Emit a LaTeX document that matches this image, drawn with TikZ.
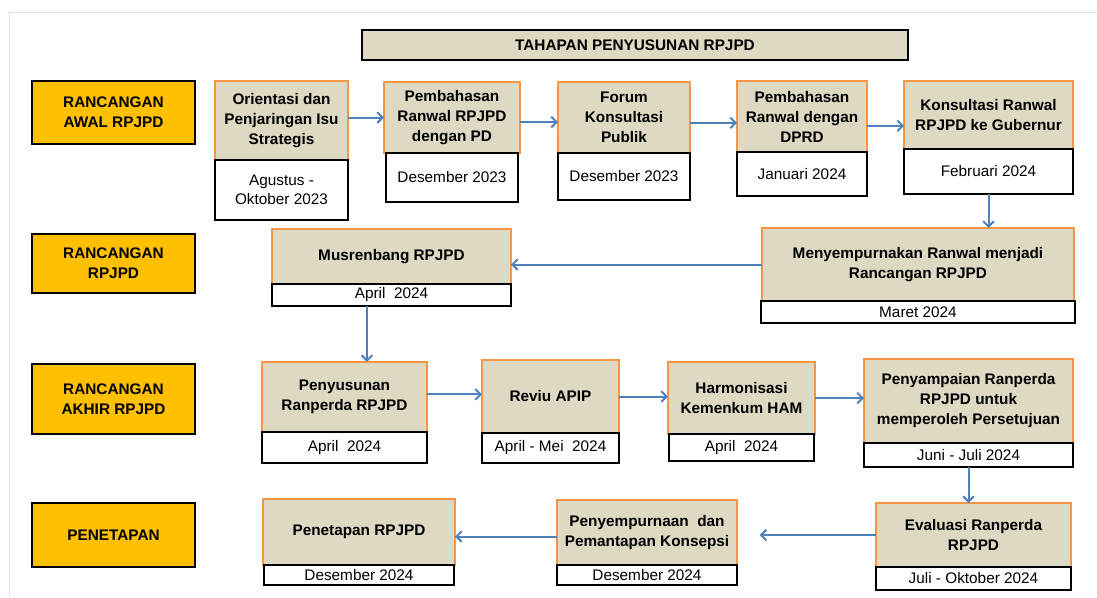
\documentclass[tikz,border=0pt]{standalone}
\usepackage{fontspec}
\setmainfont{Liberation Sans}
\usetikzlibrary{arrows.meta, calc, positioning}
\definecolor{phaseyellow}{HTML}{FFC000}
\definecolor{stagefill}{HTML}{DDD9C3}
\definecolor{stageedge}{HTML}{F79646}
\definecolor{arrowblue}{HTML}{4F81BD}
\tikzstyle{line} = [draw=arrowblue, line width=1.5pt, -{Straight Barb[length=4pt,width=8pt]}]
\tikzstyle{heading} = [rectangle, draw, line width=1.5pt, fill=stagefill, font=\bfseries\fontsize{11.5}{13}\selectfont, minimum width=409.5pt, minimum height=22.5pt]
\tikzstyle{phase} = [rectangle, draw, line width=1.5pt, fill=phaseyellow, align=center, font=\bfseries\fontsize{11.5}{15}\selectfont, minimum width=122.25pt]
\tikzstyle{stage} = [rectangle, draw=stageedge, line width=1.5pt, fill=stagefill, align=center, font=\bfseries\fontsize{11.5}{15}\selectfont, inner sep=1pt, outer sep=0pt]
\tikzstyle{period} = [rectangle, draw, line width=1.5pt, fill=white, align=center, font=\fontsize{11.5}{14}\selectfont, inner sep=1pt, outer sep=0pt]

\begin{document}
\begin{tikzpicture}[x=0.75pt, y=-0.75pt, node distance=0pt]
\useasboundingbox (0,0) rectangle (1097,597);
\draw [black!12] (9,597) -- (9,12) -- (1097,12);
\node [heading] (title) at (635,45) {TAHAPAN PENYUSUNAN RPJPD};
\node [phase, minimum height=47.25pt] (awal) at (113.5,112.5) {RANCANGAN\\AWAL RPJPD};
\node [phase, minimum height=44.25pt] (rancangan) at (113.5,263.5) {RANCANGAN\\RPJPD};
\node [phase, minimum height=52.5pt] (akhir) at (113.5,399) {RANCANGAN\\AKHIR RPJPD};
\node [phase, minimum height=48pt] (penetapan) at (113.5,535) {PENETAPAN};
\node [stage, minimum width=99.75pt, minimum height=59.25pt] (orientasi) at (281.5,120.5) {Orientasi dan\\Penjaringan Isu\\Strategis};
\node [period, minimum width=99.75pt, minimum height=45pt, below=of orientasi] (orientasidate) {Agustus -\\Oktober 2023};
\node [stage, minimum width=102pt, minimum height=53.25pt] (pembahasanpd) at (452,117.5) {Pembahasan\\Ranwal RPJPD\\dengan PD};
\node [period, minimum width=99pt, minimum height=36.75pt, below=of pembahasanpd] (pembahasanpddate) {Desember 2023};
\node [stage, minimum width=99pt, minimum height=53.25pt] (forum) at (624,117.5) {Forum\\Konsultasi\\Publik};
\node [period, minimum width=99pt, minimum height=35.25pt, below=of forum] (forumdate) {Desember 2023};
\node [stage, minimum width=97.5pt, minimum height=53.25pt] (pembahasandprd) at (802,116.5) {Pembahasan\\Ranwal dengan\\DPRD};
\node [period, minimum width=97.5pt, minimum height=33pt, below=of pembahasandprd] (pembahasandprddate) {Januari 2024};
\node [stage, minimum width=126.75pt, minimum height=51pt] (gubernur) at (988.5,115) {Konsultasi Ranwal\\RPJPD ke Gubernur};
\node [period, minimum width=126.75pt, minimum height=33.75pt, below=of gubernur] (gubernurdate) {Februari 2024};
\node [stage, minimum width=234pt, minimum height=54.75pt] (menyempurnakan) at (918,264.5) {Menyempurnakan Ranwal menjadi\\Rancangan RPJPD};
\node [period, minimum width=235.5pt, minimum height=16.5pt, below=of menyempurnakan] (menyempurnakandate) {Maret 2024};
\node [stage, minimum width=179.25pt, minimum height=41.25pt] (musrenbang) at (391.5,256.5) {Musrenbang RPJPD};
\node [period, minimum width=179.25pt, minimum height=16.5pt, below=of musrenbang] (musrenbangdate) {April~~2024};
\node [stage, minimum width=123.75pt, minimum height=52.5pt] (penyusunan) at (344.5,397) {Penyusunan\\Ranperda RPJPD};
\node [period, minimum width=123.75pt, minimum height=23.25pt, below=of penyusunan] (penyusunandate) {April~~2024};
\node [stage, minimum width=102.75pt, minimum height=54.75pt] (reviu) at (550.5,396.5) {Reviu APIP};
\node [period, minimum width=102.75pt, minimum height=22.5pt, below=of reviu] (reviudate) {April - Mei~~2024};
\node [stage, minimum width=110.25pt, minimum height=54pt] (harmonisasi) at (741.5,398) {Harmonisasi\\Kemenkum HAM};
\node [period, minimum width=108.75pt, minimum height=20.25pt, below=of harmonisasi] (harmonisasidate) {April~~2024};
\node [stage, minimum width=156.75pt, minimum height=63pt] (penyampaian) at (968.5,401) {Penyampaian Ranperda\\RPJPD untuk\\memperoleh Persetujuan};
\node [period, minimum width=156.75pt, minimum height=18pt, below=of penyampaian] (penyampaiandate) {Juni - Juli 2024};
\node [stage, minimum width=146.25pt, minimum height=48pt] (evaluasi) at (973.5,535) {Evaluasi Ranperda\\RPJPD};
\node [period, minimum width=146.25pt, minimum height=17.25pt, below=of evaluasi] (evaluasidate) {Juli - Oktober 2024};
\node [stage, minimum width=135pt, minimum height=48.75pt] (penyempurnaan) at (647,532.5) {Penyempurnaan~~dan\\Pemantapan Konsepsi};
\node [period, minimum width=135pt, minimum height=15pt, below=of penyempurnaan] (penyempurnaandate) {Desember 2024};
\node [stage, minimum width=144pt, minimum height=49.5pt] (penetapanrpjpd) at (359,532) {Penetapan RPJPD};
\node [period, minimum width=142.5pt, minimum height=15pt, below=of penetapanrpjpd] (penetapanrpjpddate) {Desember 2024};
\path [line] (orientasi.east |- pembahasanpd) -- (pembahasanpd.west);
\path [line] ([yshift=-3.4pt]pembahasanpd.east) -- ([yshift=-3.4pt]forum.west);
\path [line] ([yshift=-4pt]forum.east) -- ([yshift=-4pt]forum.east -| pembahasandprd.west);
\path [line] ([yshift=-7pt]pembahasandprd.east) -- ([yshift=-7pt]pembahasandprd.east -| gubernur.west);
\path [line] (gubernurdate.south) -- (gubernurdate.south |- menyempurnakan.north);
\path [line] (menyempurnakan.west) -- (menyempurnakan.west -| musrenbang.east);
\path [line] ([xshift=-18.4pt]musrenbangdate.south) -- ([xshift=-18.4pt]musrenbangdate.south |- penyusunan.north);
\path [line] ([yshift=2pt]penyusunan.east) -- ([yshift=2pt]penyusunan.east -| reviu.west);
\path [line] (reviu.east) -- (reviu.east -| harmonisasi.west);
\path [line] (harmonisasi.east) -- (harmonisasi.east -| penyampaian.west);
\path [line] (penyampaiandate.south) -- (penyampaiandate.south |- evaluasi.north);
\path [line, shorten >=17pt] (evaluasi.west) -- (evaluasi.west -| penyempurnaan.east);
\path [line] ([yshift=-3pt]penyempurnaan.west) -- ([yshift=-3pt]penyempurnaan.west -| penetapanrpjpd.east);
\end{tikzpicture}
\end{document}
